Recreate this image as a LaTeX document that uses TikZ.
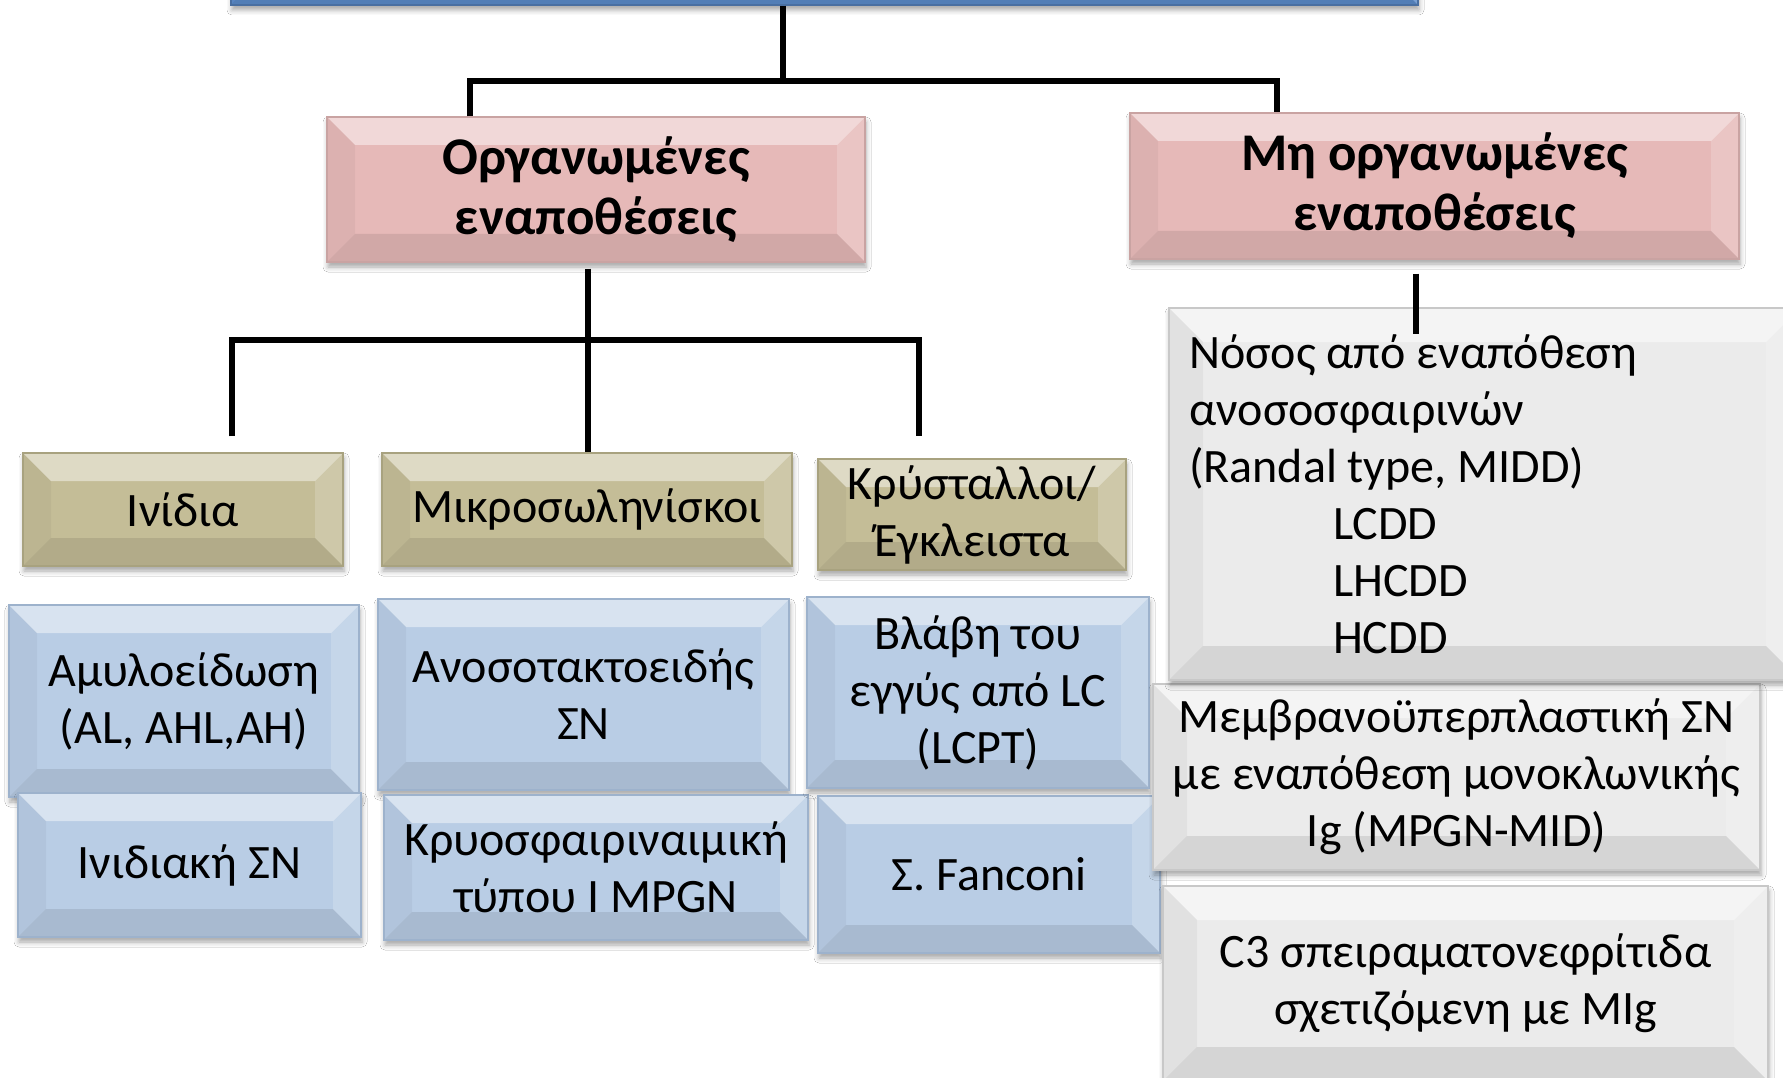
\documentclass[tikz,border=0pt]{standalone}
\usepackage{fontspec}
\setmainfont{Carlito}
\usetikzlibrary{shadows.blur}
\definecolor{pinkfill}{HTML}{E6B9B8}
\definecolor{pinkline}{HTML}{C9A3A2}
\definecolor{tanfill}{HTML}{C4BD97}
\definecolor{tanline}{HTML}{A8A27F}
\definecolor{bluefill}{HTML}{B9CDE5}
\definecolor{blueline}{HTML}{9DB2CC}
\definecolor{greyfill}{HTML}{EBEBEB}
\definecolor{greyline}{HTML}{C8C8C8}
\definecolor{topblue}{HTML}{5B8BC9}
\tikzset{
  bevel/.style={path picture={
    \path (path picture bounding box.north west) coordinate (pNW)
          (path picture bounding box.north east) coordinate (pNE)
          (path picture bounding box.south west) coordinate (pSW)
          (path picture bounding box.south east) coordinate (pSE);
    \fill[white,opacity=0.45] (pNW) -- (pNE) -- ([xshift=-#1,yshift=-#1]pNE) -- ([xshift=#1,yshift=-#1]pNW) -- cycle;
    \fill[black,opacity=0.09] (pSW) -- (pSE) -- ([xshift=-#1,yshift=#1]pSE) -- ([xshift=#1,yshift=#1]pSW) -- cycle;
    \fill[black,opacity=0.04] (pNW) -- (pSW) -- ([xshift=#1,yshift=#1]pSW) -- ([xshift=#1,yshift=-#1]pNW) -- cycle;
    \fill[white,opacity=0.18] (pNE) -- (pSE) -- ([xshift=-#1,yshift=#1]pSE) -- ([xshift=-#1,yshift=-#1]pNE) -- cycle;
  }},
  bevel/.default=28pt,
  box/.style={rectangle, inner sep=0pt, align=center, line width=1.2pt,
    blur shadow={shadow xshift=1pt, shadow yshift=-5pt, shadow blur radius=5pt, shadow opacity=35},
    font=\fontsize{48}{57}\selectfont},
  pinkbox/.style={box, bevel, fill=pinkfill, draw=pinkline, font=\fontsize{53}{60}\selectfont\bfseries},
  tanbox/.style={box, bevel, fill=tanfill, draw=tanline},
  bluebox/.style={box, bevel, fill=bluefill, draw=blueline},
  greybox/.style={box, bevel=34pt, fill=greyfill, draw=greyline},
  topbox/.style={box, bevel=20pt, fill=topblue, draw=topblue!80!black},
  conn/.style={line width=5.5pt, black}
}
\begin{document}
\begin{tikzpicture}[x=1pt,y=-1pt]
\useasboundingbox (0,0) rectangle (1783,1078);
\clip (0,0) rectangle (1783,1078);
\fill[white] (0,0) rectangle (1783,1078);

% top (cut) box
\node[topbox, minimum width=1187pt, minimum height=65pt] (top) at (824.5,-27.5) {};

% level 2
\node[pinkbox, minimum width=538pt, minimum height=145pt] (org) at (596,189.5) {Οργανωμένες\\εναποθέσεις};
\node[pinkbox, minimum width=609pt, minimum height=146pt] (non) at (1434.5,186) {Μη οργανωμένες\\εναποθέσεις};

% level 3
\node[tanbox, minimum width=320pt, minimum height=113pt] (fib) at (183,509.5) {Ινίδια};
\node[tanbox, minimum width=410pt, minimum height=113pt] (mic) at (587,509.5) {Μικροσωληνίσκοι};
\node[tanbox, minimum width=308pt, minimum height=111pt] (cry) at (972,514.5) {Κρύσταλλοι/\\Έγκλειστα};

% level 4 (blue)
\node[bluebox, minimum width=350pt, minimum height=192pt] (amy) at (184,701) {Αμυλοείδωση\\(AL, AHL,AH)};
\node[bluebox, minimum width=343pt, minimum height=144pt] (fgn) at (189.5,865) {Ινιδιακή ΣΝ};
\node[bluebox, minimum width=411pt, minimum height=191pt] (itg) at (583.5,694.5) {Ανοσοτακτοειδής\\ΣΝ};
\node[bluebox, minimum width=424pt, minimum height=145pt] (cryo) at (596,867.5) {Κρυοσφαιριναιμική\\τύπου Ι MPGN};
\node[bluebox, minimum width=342pt, minimum height=191pt] (lcpt) at (978,692.5) {Βλάβη του\\εγγύς από LC\\(LCPT)};
\node[bluebox, minimum width=342pt, minimum height=157pt] (fan) at (989,874.5) {Σ. Fanconi};

% non-organised (grey)
\node[greybox, minimum width=607pt, minimum height=186pt] (mem) at (1456.5,777) {Μεμβρανοϋπερπλαστική ΣΝ\\με εναπόθεση μονοκλωνικής\\Ig (MPGN-MID)};
\node[greybox, minimum width=631pt, minimum height=372pt, text width=591pt, align=flush left] (nos) at (1484.5,494)
  {Νόσος από εναπόθεση\\ανοσοσφαιρινών\\(Randal type, MIDD)\\\hspace*{144pt}LCDD\\\hspace*{144pt}LHCDD\\\hspace*{144pt}HCDD};
\node[greybox, minimum width=605pt, minimum height=195pt] (c3) at (1465.5,983.5) {C3 σπειραματονεφρίτιδα\\σχετιζόμενη με MIg};

% connectors
\coordinate (j0) at (783,81);
\coordinate (bl) at (470,81);
\coordinate (br) at (1277,81);
\draw[conn] (j0 |- top.south) -- (j0);
\draw[conn] (bl |- org.north) -- (bl) -- (br) -- (br |- non.north);

\coordinate (m) at (588,340);
\coordinate (ml) at (232,340);
\coordinate (mr) at (919,340);
\draw[conn] ([yshift=-6pt]m |- org.south) -- (m |- mic.north);
\draw[conn] ([yshift=16pt]ml |- fib.north) -- (ml) -- (mr) -- ([yshift=22pt]mr |- cry.north);

\coordinate (r) at (1416,300);
\draw[conn] ([yshift=-14pt]r |- non.south) -- ([yshift=-27pt]r |- nos.north);
\end{tikzpicture}
\end{document}
